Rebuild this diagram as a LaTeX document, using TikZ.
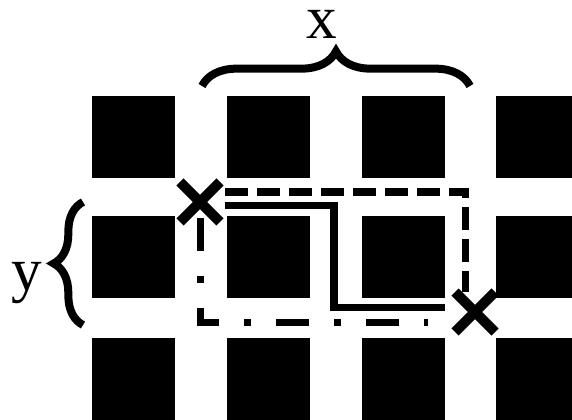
\documentclass[tikz,border=0pt]{standalone}
\usepackage{fontspec}
\setmainfont{Liberation Serif}
\usetikzlibrary{decorations.pathreplacing, shapes.misc}

\begin{document}
\begin{tikzpicture}[
    % one unit is one pixel of the 572x420 sketch, y runs down
    x=0.75pt, y=-0.75pt,
    cell/.style={rectangle, fill=black, inner sep=0pt, minimum width=62.25pt, minimum height=61.5pt},
    route/.style={line width=5.6pt},
    bound/.style={line width=5.6pt, dash pattern=on 17.25pt off 6.75pt},
    sweep/.style={line width=5.6pt, dash pattern=on 24.75pt off 18.75pt on 5.25pt off 18.75pt},
    xmark/.style={cross out, draw, line width=7.5pt, minimum size=22.5pt, inner sep=0pt},
    curly/.style={decorate, line width=6pt, decoration={brace, amplitude=#1}},
    lbl/.style={font=\fontsize{46}{50}\selectfont, inner sep=0pt, anchor=base}
]
    \useasboundingbox (0,0) rectangle (572,420);
    \clip (0,0) rectangle (572,420);

    % grid of blocks
    \foreach \c [count=\i] in {133.5,268.2,403,537.5}
        \foreach \r [count=\j] in {137,257,379}
            \node[cell] (sq-\j-\i) at (\c,\r) {};

    % braces and their labels
    \draw[curly=26pt] (202,86) -- (470,86);
    \node[lbl] (xlab) at (322,38.3) {x};
    \draw[curly=22pt] (83,325) -- (83,202);
    \node[lbl] (ylab) at (27,291) {y};

    % the three routes
    \draw[bound] (225,192) -- (465.5,192) -- (465.5,292);
    \draw[sweep] (200.7,218) -- (200.7,322.3) -- (428,322.3);
    \draw[route] (225,205.3) -- (334,205.3) -- (334,307.7) -- (445,307.7);

    % start and goal
    \node[xmark] (start) at (200,202) {};
    \node[xmark] (goal) at (475,312) {};
\end{tikzpicture}
\end{document}
